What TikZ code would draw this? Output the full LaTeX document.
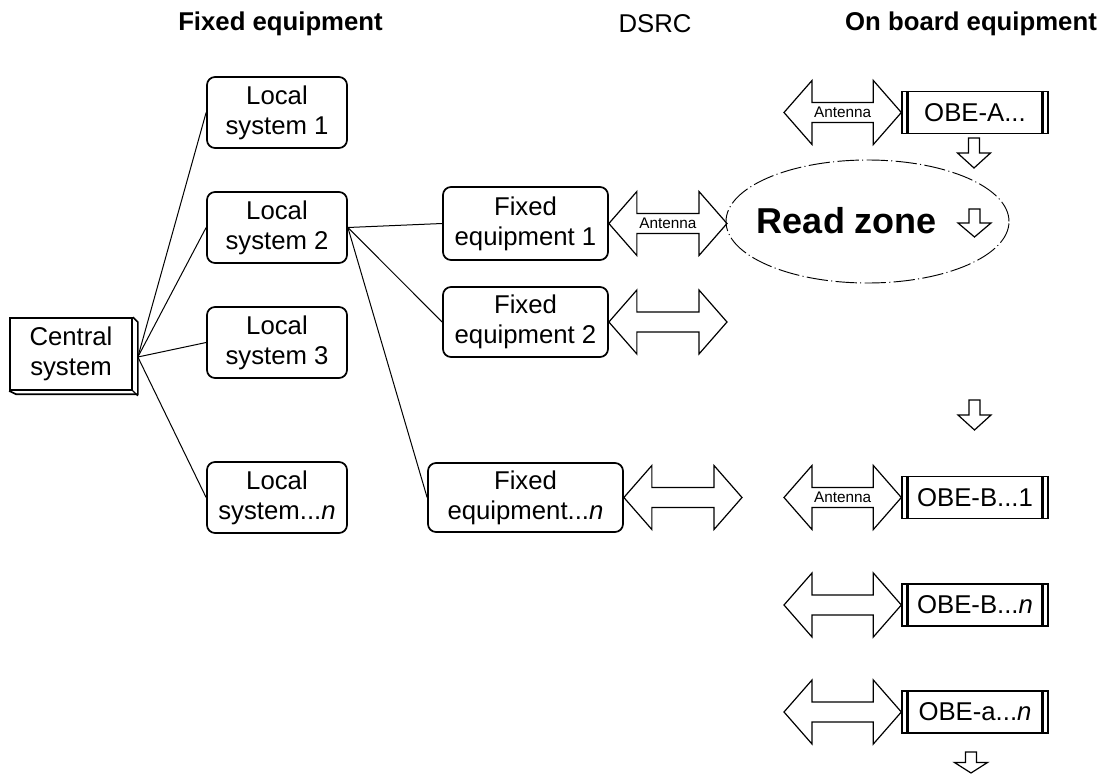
\documentclass[tikz,border=0pt]{standalone}
\usepackage{fontspec}
\setmainfont{Liberation Sans}
\usetikzlibrary{calc,shapes.geometric}
\newcommand{\dblarr}[2]{%
  \draw[arrowshape] (#1) -- ++(28,-32) -- ++(0,22) -- ($(#2)+(-28,-10)$) -- ++(0,-22) -- (#2)
    -- ++(-28,32) -- ++(0,-22) -- ($(#1)+(28,10)$) -- ++(0,22) -- cycle;}
\newcommand{\downarr}[3]{% x, ytop, height
  \draw[arrowshape] ({#1-5.5},#2) -- ({#1+5.5},#2) -- ({#1+5.5},{#2+#3/2}) -- ({#1+16.5},{#2+#3/2})
    -- (#1,{#2+#3}) -- ({#1-16.5},{#2+#3/2}) -- ({#1-5.5},{#2+#3/2}) -- cycle;}
\newcommand{\obecaps}[1]{%
  \draw[line width=2pt] ($(#1.north west)+(6,0)$) -- ($(#1.south west)+(6,0)$);
  \draw[line width=2pt] ($(#1.north east)+(-6,0)$) -- ($(#1.south east)+(-6,0)$);}
\begin{document}
\begin{tikzpicture}[x=0.75pt,y=-0.75pt,
  every node/.style={font=\fontsize{19.3}{22.5}\selectfont, align=center, inner sep=0pt},
  titlebold/.style={font=\bfseries\fontsize{19.3}{22.5}\selectfont},
  rbox/.style={draw, line width=1.3pt, rounded corners=6pt},
  localbox/.style={rbox, minimum width=105pt, minimum height=53.25pt},
  cbox/.style={draw, line width=1.3pt, minimum width=91.5pt, minimum height=54pt},
  obebox/.style={draw, line width=1pt, minimum width=109.5pt, minimum height=31.5pt},
  conn/.style={line width=0.75pt},
  arrowshape/.style={draw, line width=0.9pt, line join=miter},
  antenna/.style={font=\fontsize{11.5}{13}\selectfont},
  zone/.style={draw, ellipse, line width=0.7pt, dash pattern=on 16pt off 2.5pt on 0.8pt off 2.5pt,
    minimum width=212.25pt, minimum height=92.25pt}]
\useasboundingbox (0,0) rectangle (1107,774);

% titles
\node[titlebold] (t1) at (280.5,24) {Fixed equipment};
\node (t2) at (655,24) {DSRC};
\node[titlebold] (t3) at (971,24) {On board equipment};

% central system (3D box)
\node[cbox] (central) at (71,354) {Central\\system};
\draw[line width=1.3pt, line join=miter] (central.north east) -- ++(5,5) -- ++(0,72) -- ++(-122,0) -- (central.south west);
\draw[line width=1pt] (central.south east) -- ++(5,5);
\coordinate (fan) at ($(central.east)+(5,3)$);

% local systems
\node[localbox] (l1) at (277,112.5) {Local\\system 1};
\node[localbox] (l2) at (277,227.5) {Local\\system 2};
\node[localbox] (l3) at (277,342.5) {Local\\system 3};
\node[localbox] (ln) at (277,497.5) {Local\\system...\textit{n}};

% fixed equipment
\node[rbox, minimum width=123.75pt, minimum height=54.75pt] (f1) at (525.5,223.5) {Fixed\\equipment 1};
\node[rbox, minimum width=123.75pt, minimum height=52.5pt] (f2) at (525.5,322) {Fixed\\equipment 2};
\node[rbox, minimum width=146.25pt, minimum height=51.75pt] (fn) at (525.5,497.5) {Fixed\\equipment...\textit{n}};

% connectors
\draw[conn] (fan) -- (l1.west);
\draw[conn] (fan) -- (l2.west);
\draw[conn] (fan) -- (l3.west);
\draw[conn] (fan) -- (ln.west);
\draw[conn] (l2.east) -- (f1.west);
\draw[conn] (l2.east) -- (f2.west);
\draw[conn] (l2.east) -- (fn.west);

% fixed equipment antennas
\coordinate (f1r) at (727,223.5);
\coordinate (f2r) at (727,322);
\coordinate (fnr) at (742,497.5);
\dblarr{f1.east}{f1r}
\dblarr{f2.east}{f2r}
\dblarr{fn.east}{fnr}
\node[antenna] (a1) at ($(f1.east)!0.5!(f1r)$) {Antenna};

% read zone
\node[zone] (rzone) at (867.5,221.5) {};
\node[font=\bfseries\fontsize{27}{30}\selectfont] (rz) at (847,221) {Read zone};

% on board equipment
\node[obebox] (obeA) at (975,112.5) {OBE-A...};
\node[obebox] (obeB1) at (975,497.5) {OBE-B...1};
\node[obebox] (obeBn) at (975,605) {OBE-B...\textit{n}};
\node[obebox] (obean) at (975,712) {OBE-a...\textit{n}};
\obecaps{obeA}
\obecaps{obeB1}
\obecaps{obeBn}
\obecaps{obean}

\coordinate (oAl) at (784,112.5);
\coordinate (oB1l) at (784,497.5);
\coordinate (oBnl) at (784,605);
\coordinate (oanl) at (784,712);
\dblarr{oAl}{obeA.west}
\dblarr{oB1l}{obeB1.west}
\dblarr{oBnl}{obeBn.west}
\dblarr{oanl}{obean.west}
\node[antenna] (aA) at ($(oAl)!0.5!(obeA.west)$) {Antenna};
\node[antenna] (aB1) at ($(oB1l)!0.5!(obeB1.west)$) {Antenna};

% down arrows
\downarr{974}{138}{30}
\downarr{974.5}{209}{28}
\downarr{974.5}{400}{30}
\downarr{971}{752}{21}
\end{tikzpicture}
\end{document}
